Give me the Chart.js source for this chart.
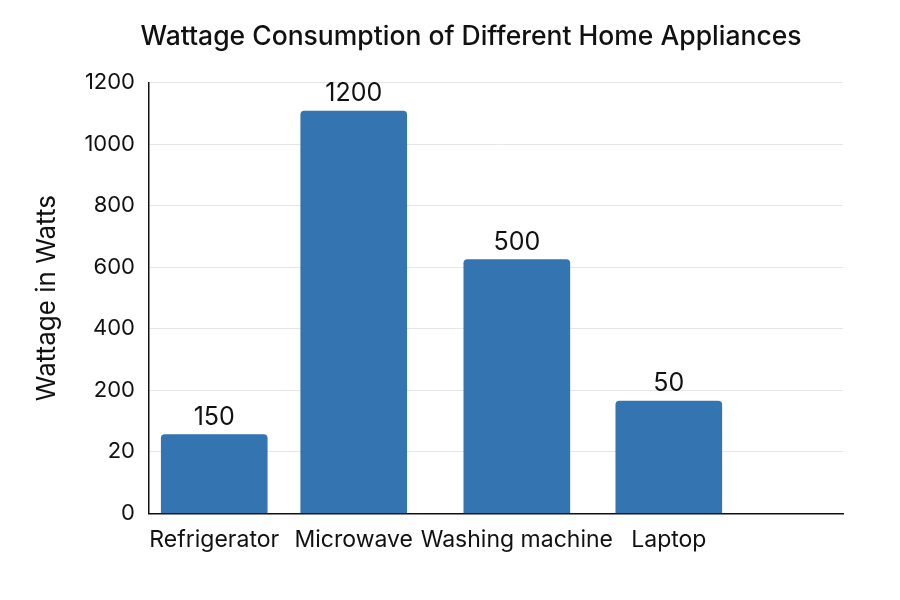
<!DOCTYPE html>
<html>
<head>
<meta charset="utf-8">
<script src="https://cdn.jsdelivr.net/npm/chart.js@4.4.1/dist/chart.umd.min.js"></script>
<style>
  html, body { margin: 0; padding: 0; background: #fff; }
  #wrap { width: 900px; height: 600px; }
</style>
</head>
<body>
<div id="wrap"><canvas id="chartWattage"></canvas></div>
<script>
// categories and where each one sits along the x axis (axis runs 0..10)
const appliances = ["Refrigerator", "Microwave", "Washing machine", "Laptop"];
const applianceSlots = [0.94, 2.95, 5.3, 7.49];

// bar heights as drawn against the y axis (axis runs 0..1400, 8 ticks)
const barHeights = [256, 1308, 825, 365];

// numbers printed above the bars
const barLabels = ["150", "1200", "500", "50"];

// y tick labels, bottom to top, as printed
const yTickLabels = ["0", "20", "200", "400", "600", "800", "1000", "1200"];

const ink = "#111111";
Chart.defaults.font.family = "Inter, 'Noto Sans', sans-serif";
Chart.defaults.color = ink;

// draw value labels above each bar
const barValuePlugin = {
  id: "barValues",
  afterDatasetsDraw(chart) {
    const ctx = chart.ctx;
    const meta = chart.getDatasetMeta(0);
    ctx.save();
    ctx.font = "25px Inter, 'Noto Sans', sans-serif";
    ctx.fillStyle = ink;
    ctx.textAlign = "center";
    ctx.textBaseline = "alphabetic";
    meta.data.forEach((bar, i) => {
      ctx.fillText(barLabels[i], bar.x, bar.y - 10);
    });
    ctx.restore();
  }
};

const chart = new Chart("chartWattage", {
  type: "bar",
  data: {
    datasets: [
      {
        label: "Wattage",
        data: appliances.map((name, i) => ({ x: applianceSlots[i], y: barHeights[i] })),
        backgroundColor: "#3474b0",
        borderWidth: 0,
        borderRadius: { topLeft: 4, topRight: 4 },
        borderSkipped: "start",
        barThickness: 106,
      },
    ],
  },
  plugins: [barValuePlugin],
  options: {
    responsive: true,
    maintainAspectRatio: false,
    animation: false,
    layout: { padding: { left: 42, right: 0, top: 0, bottom: 33 } },
    plugins: {
      legend: { display: false },
      tooltip: { enabled: false },
      title: {
        display: true,
        text: "Wattage Consumption of Different Home Appliances",
        color: ink,
        font: { size: 26.5, weight: "500" },
        padding: { top: 21, bottom: 30 },
      },
    },
    scales: {
      x: {
        type: "linear",
        min: 0,
        max: 10,
        offset: false,
        afterBuildTicks(scale) {
          scale.ticks = applianceSlots.map((v) => ({ value: v }));
        },
        ticks: {
          autoSkip: false,
          maxRotation: 0,
          padding: 13,
          font: { size: 23 },
          color: ink,
          callback: (value, index) => appliances[index],
        },
        grid: { display: false, drawTicks: false },
        border: { display: true, color: ink, width: 1.5 },
      },
      y: {
        min: 0,
        max: 1400,
        afterFit(scale) {
          scale.width = 107;
        },
        ticks: {
          stepSize: 200,
          padding: 14,
          font: { size: 22 },
          color: ink,
          callback: (value, index) => yTickLabels[index],
        },
        grid: { color: "#e6e6e6", lineWidth: 1, drawTicks: false },
        border: { display: true, color: ink, width: 1.5 },
        title: {
          display: true,
          text: "Wattage in Watts",
          color: ink,
          font: { size: 26 },
          padding: { top: -10, bottom: 0 },
        },
      },
      // empty right-hand axis, only keeps the right margin
      yRight: {
        position: "right",
        display: true,
        afterFit(scale) {
          scale.width = 57;
        },
        ticks: { display: false },
        grid: { display: false, drawTicks: false },
        border: { display: false },
      },
    },
  },
});
</script>
</body>
</html>
